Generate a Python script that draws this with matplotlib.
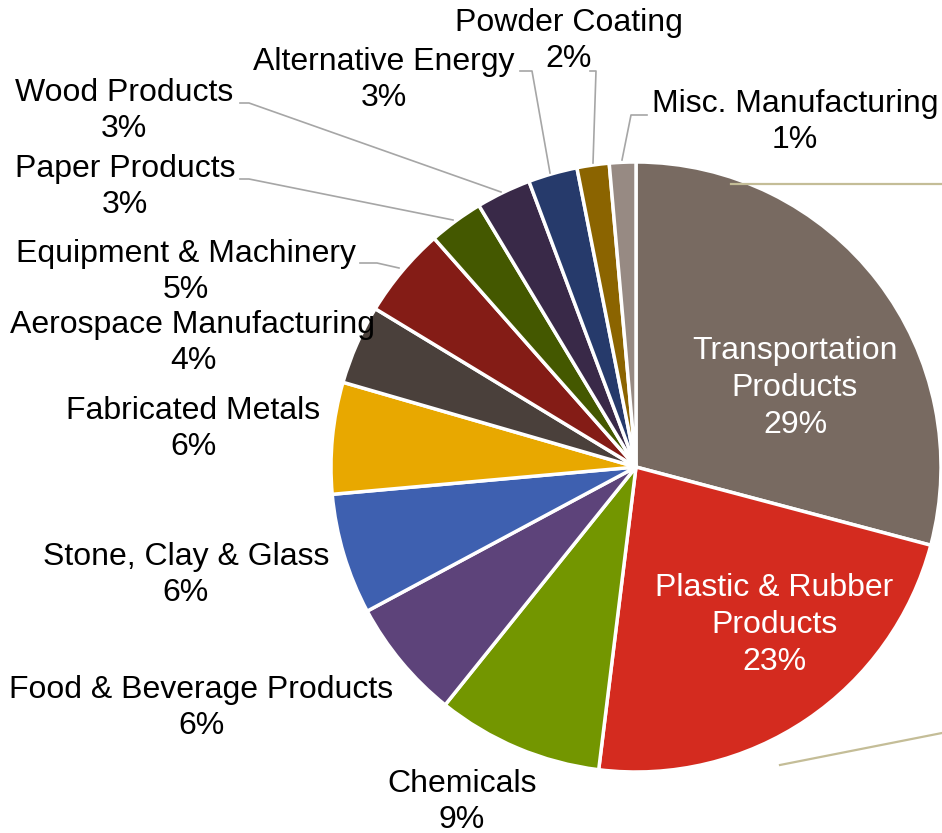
import matplotlib

matplotlib.use("Agg")

import matplotlib.pyplot as plt

plt.rcParams["font.family"] = ["Liberation Sans", "DejaVu Sans"]

# slices, clockwise from 12 o'clock
industries = [
    "Transportation\nProducts",
    "Plastic & Rubber\nProducts",
    "Chemicals",
    "Food & Beverage Products",
    "Stone, Clay & Glass",
    "Fabricated Metals",
    "Aerospace Manufacturing",
    "Equipment & Machinery",
    "Paper Products",
    "Wood Products",
    "Alternative Energy",
    "Powder Coating",
    "Misc. Manufacturing",
]
shares = [29.1, 22.8, 8.8, 6.4, 6.4, 5.9, 4.2, 4.8, 2.9, 2.9, 2.6, 1.7, 1.4]
colors = [
    "#786a61", "#d42b1f", "#739600", "#5d437a", "#3e60b0", "#e8a800", "#4a403b",
    "#841c16", "#445800", "#392948", "#263a6b", "#8b6400", "#978a83",
]

W, H = 942, 833
cx, cy, r = 636, 467, 305

fig = plt.figure(figsize=(W / 100, H / 100), dpi=100)
ax = fig.add_axes([(cx - r) / W, (H - cy - r) / H, 2 * r / W, 2 * r / H])
ax.pie(shares, colors=colors, startangle=90, counterclock=False, radius=1,
       wedgeprops={"edgecolor": "white", "linewidth": 2.5})
ax.set_xlim(-1, 1)
ax.set_ylim(-1, 1)

# overlay in pixel coords for labels and leader lines
ov = fig.add_axes([0, 0, 1, 1])
ov.set_xlim(0, W)
ov.set_ylim(H, 0)
ov.axis("off")

total = sum(shares)
labels = [f"{name}\n{round(v / total * 100)}%" for name, v in zip(industries, shares)]

label_pos = [
    (795, 388), (774, 625), (462, 802), (201, 708), (186, 575), (193, 429),
    (193, 343), (186, 272), (125, 187), (124, 111), (384, 80), (569, 41), (795, 122),
]
for i, (txt, (x, y)) in enumerate(zip(labels, label_pos)):
    ov.text(x, y, txt, ha="center", va="center", fontsize=23, linespacing=1.3,
            color="white" if i < 2 else "black")

leaders = [
    [(622, 160), (631, 115), (647, 115)],
    [(593, 163), (596, 71), (590, 71)],
    [(550, 173), (532, 71), (520, 71)],
    [(501, 192), (249, 103), (240, 103)],
    [(453, 220), (249, 179), (240, 179)],
    [(399, 268), (377, 263), (360, 263)],
]
for pts in leaders:
    xs, ys = zip(*pts)
    ov.plot(xs, ys, color="#a6a6a6", linewidth=1.2)

# stray leader lines from the original chart
ov.plot([731, 942], [184, 184], color="#c4bd97", linewidth=1.6)
ov.plot([780, 942], [765, 733], color="#c4bd97", linewidth=1.6)

fig.savefig("out.png", dpi=100)
